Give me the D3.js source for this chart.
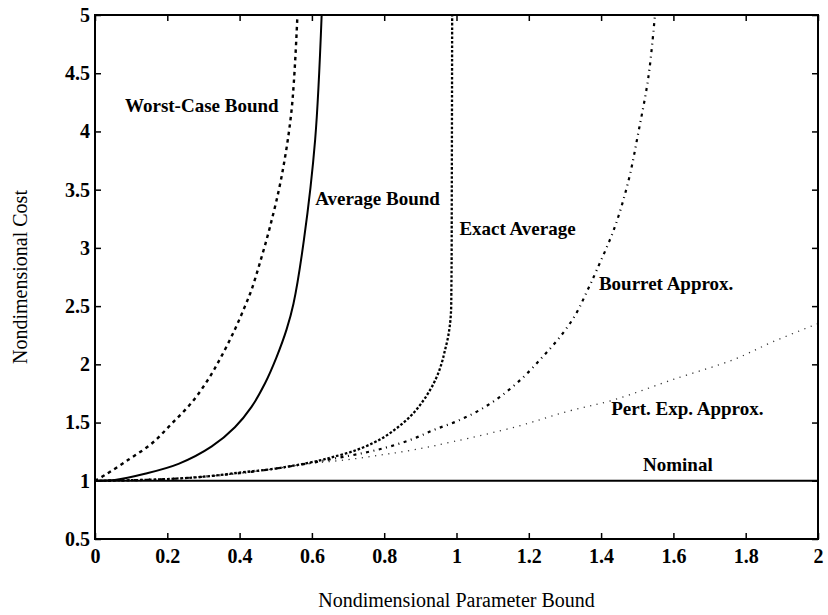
<!DOCTYPE html>
<html>
<head>
<meta charset="utf-8">
<script src="https://cdn.jsdelivr.net/npm/d3@7"></script>
<style>
  html, body { margin: 0; padding: 0; background: #fff; }
  svg { display: block; }
  .tick text { font-family: "Liberation Serif", "Times New Roman", serif; font-weight: bold; font-size: 20px; fill: #000; }
  .tick line { stroke: #000; stroke-width: 1.5; }
  .domain { display: none; }
  .curve-label { font-family: "Liberation Serif", "Times New Roman", serif; font-weight: bold; font-size: 19px; fill: #000; }
  .axis-title { font-family: "Liberation Serif", "Times New Roman", serif; font-size: 20px; fill: #000; }
</style>
</head>
<body>
<svg id="chart" width="828" height="615"></svg>
<script>
// Axis ticks
const xTicks = [0, 0.2, 0.4, 0.6, 0.8, 1, 1.2, 1.4, 1.6, 1.8, 2];
const yTicks = [0.5, 1, 1.5, 2, 2.5, 3, 3.5, 4, 4.5, 5];

// Cost curves: [parameter bound, nondimensional cost]
const worstCase = [
  [0, 1], [0.028, 1.05], [0.092, 1.18], [0.157, 1.32], [0.212, 1.49], [0.267, 1.67],
  [0.313, 1.87], [0.35, 2.07], [0.387, 2.3], [0.415, 2.5], [0.433, 2.64], [0.456, 2.87],
  [0.484, 3.18], [0.516, 3.61], [0.544, 4.19], [0.56, 5]
];
const averageBound = [
  [0, 1], [0.055, 1.007], [0.138, 1.06], [0.231, 1.145], [0.323, 1.295], [0.387, 1.46],
  [0.433, 1.635], [0.47, 1.835], [0.502, 2.06], [0.53, 2.3], [0.549, 2.52], [0.578, 3.07],
  [0.609, 3.93], [0.627, 5]
];
const exactAverage = [
  [0, 1], [0.1, 1.005], [0.2, 1.015], [0.3, 1.035], [0.4, 1.07], [0.5, 1.105], [0.558, 1.135],
  [0.622, 1.175], [0.659, 1.205], [0.715, 1.255], [0.77, 1.325], [0.807, 1.39], [0.844, 1.475],
  [0.876, 1.565], [0.904, 1.67], [0.927, 1.78], [0.945, 1.89], [0.959, 2.01], [0.968, 2.12],
  [0.977, 2.24], [0.984, 2.41], [0.986, 2.7], [0.987, 3.5], [0.988, 5]
];
const bourret = [
  [0, 1], [0.1, 1.005], [0.2, 1.015], [0.3, 1.035], [0.4, 1.065], [0.5, 1.105], [0.6, 1.155],
  [0.678, 1.2], [0.752, 1.245], [0.816, 1.295], [0.88, 1.36], [0.94, 1.44], [1.0, 1.51],
  [1.06, 1.6], [1.12, 1.72], [1.185, 1.89], [1.24, 2.07], [1.29, 2.25], [1.33, 2.43],
  [1.36, 2.62], [1.388, 2.81], [1.438, 3.18], [1.476, 3.58], [1.503, 3.99], [1.531, 4.47], [1.549, 5]
];
const pertExp = [
  [0, 1], [0.1, 1.005], [0.2, 1.015], [0.3, 1.035], [0.4, 1.065], [0.5, 1.105], [0.6, 1.15],
  [0.696, 1.18], [0.788, 1.22], [0.88, 1.265], [0.991, 1.336], [1.166, 1.465], [1.305, 1.594],
  [1.434, 1.694], [1.609, 1.88], [1.766, 2.04], [1.876, 2.195], [2.0, 2.35]
];
const nominal = [[0, 1], [2, 1]];

// Curve annotations: text and anchor in data units (left edge, baseline)
const labelText = ["Worst-Case Bound", "Average Bound", "Exact Average", "Bourret Approx.", "Pert. Exp. Approx.", "Nominal"];
const labelX = [0.083, 0.609, 1.008, 1.394, 1.428, 1.516];
const labelY = [4.17, 3.37, 3.11, 2.64, 1.565, 1.088];

const width = 828, height = 615;
const margin = { left: 95, right: 10, top: 15, bottom: 76 };
const svg = d3.select("#chart");

const x = d3.scaleLinear().domain([0, 2]).range([margin.left, width - margin.right]);
const y = d3.scaleLinear().domain([0.5, 5]).range([height - margin.bottom, margin.top]);

const defs = svg.append("defs");
defs.append("clipPath").attr("id", "plot-clip")
  .append("rect")
  .attr("x", x(0)).attr("y", y(5))
  .attr("width", x(2) - x(0)).attr("height", y(0.5) - y(5));

// Axes with inward ticks on all four sides
svg.append("g")
  .attr("transform", `translate(0,${y(0.5)})`)
  .call(d3.axisBottom(x).tickValues(xTicks).tickFormat(d3.format("")).tickSizeInner(-6).tickSizeOuter(0).tickPadding(10));
svg.append("g")
  .attr("transform", `translate(0,${y(5)})`)
  .call(d3.axisTop(x).tickValues(xTicks).tickFormat("").tickSizeInner(-6).tickSizeOuter(0));
svg.append("g")
  .attr("transform", `translate(${x(0)},0)`)
  .call(d3.axisLeft(y).tickValues(yTicks).tickFormat(d3.format("")).tickSizeInner(-6).tickSizeOuter(0).tickPadding(5));
svg.append("g")
  .attr("transform", `translate(${x(2)},0)`)
  .call(d3.axisRight(y).tickValues(yTicks).tickFormat("").tickSizeInner(-6).tickSizeOuter(0));

const smooth = d3.line()
  .x(d => x(d[0]))
  .y(d => y(d[1]))
  .curve(d3.curveCatmullRom.alpha(0.5));
const straight = d3.line().x(d => x(d[0])).y(d => y(d[1]));

const plot = svg.append("g").attr("clip-path", "url(#plot-clip)");

const series = [
  { data: nominal, gen: straight, width: 2, dash: null, color: "#000" },
  { data: pertExp, gen: smooth, width: 1.3, dash: "1.2,5.5", color: "#333" },
  { data: bourret, gen: smooth, width: 2.2, dash: "3,4.5,1,4.5", color: "#000" },
  { data: exactAverage, gen: smooth, width: 2.3, dash: "2.6,1.9", color: "#000" },
  { data: averageBound, gen: smooth, width: 2, dash: null, color: "#000" },
  { data: worstCase, gen: smooth, width: 2.4, dash: "3.5,4", color: "#000" }
];

series.forEach(s => {
  plot.append("path")
    .attr("d", s.gen(s.data))
    .attr("fill", "none")
    .attr("stroke", s.color)
    .attr("stroke-width", s.width)
    .attr("stroke-dasharray", s.dash)
    .attr("stroke-linejoin", "round");
});

// Plot frame
svg.append("rect")
  .attr("x", x(0)).attr("y", y(5))
  .attr("width", x(2) - x(0)).attr("height", y(0.5) - y(5))
  .attr("fill", "none").attr("stroke", "#000").attr("stroke-width", 2);

// Curve labels
labelText.forEach((t, i) => {
  svg.append("text")
    .attr("class", "curve-label")
    .attr("x", x(labelX[i]))
    .attr("y", y(labelY[i]))
    .text(t);
});

// Axis titles
svg.append("text")
  .attr("class", "axis-title")
  .attr("text-anchor", "middle")
  .attr("x", (x(0) + x(2)) / 2)
  .attr("y", 607)
  .text("Nondimensional Parameter Bound");
svg.append("text")
  .attr("class", "axis-title")
  .attr("text-anchor", "middle")
  .attr("transform", `translate(27,${(y(0.5) + y(5)) / 2}) rotate(-90)`)
  .text("Nondimensional Cost");
</script>
</body>
</html>
